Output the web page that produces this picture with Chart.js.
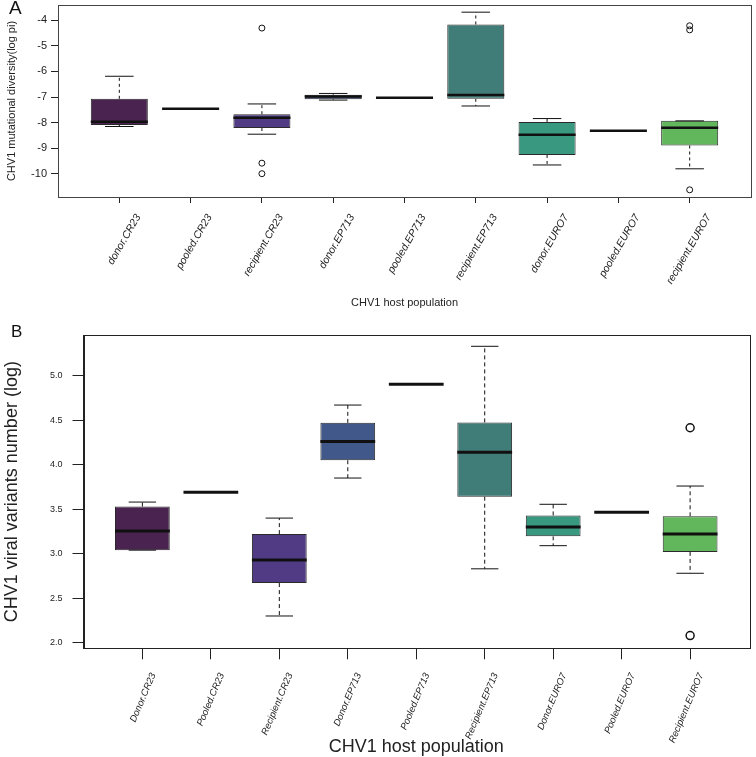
<!DOCTYPE html>
<html>
<head>
<meta charset="utf-8">
<title>CHV1 boxplots</title>
<script src="https://cdn.jsdelivr.net/npm/chart.js@4.4.1/dist/chart.umd.min.js"></script>
<style>
  html, body { margin: 0; padding: 0; background: #ffffff; overflow: hidden; }
  .panel { position: absolute; left: 0; width: 756px; }
  #panelA { top: 0; height: 322px; }
  #panelB { top: 322px; height: 435px; }
</style>
</head>
<body>
<div class="panel" id="panelA"><canvas id="chartA"></canvas></div>
<div class="panel" id="panelB"><canvas id="chartB"></canvas></div>
<script>
// panel A - mutational diversity (log pi)
const categoriesA = ["donor.CR23", "pooled.CR23", "recipient.CR23", "donor.EP713", "pooled.EP713",
  "recipient.EP713", "donor.EURO7", "pooled.EURO7", "recipient.EURO7"];
const lowA    = [-8.15, -7.46, -8.45, -7.12, -7.03, -7.35, -9.65, -8.32, -9.80];
const q1A     = [-8.09, -7.46, -8.21, -7.09, -7.03, -7.07, -9.26, -8.32, -8.89];
const medianA = [-7.96, -7.46, -7.81, -6.98, -7.03, -6.92, -8.47, -8.32, -8.20];
const q3A     = [-7.07, -7.46, -7.67, -6.91, -7.03, -4.17, -7.97, -8.32, -7.93];
const highA   = [-6.19, -7.46, -7.27, -6.86, -7.03, -3.69, -7.84, -8.32, -7.93];
const outliersA = [[], [], [-4.31, -9.58, -9.99], [], [], [], [], [], [-4.22, -4.38, -10.62]];
const yTicksA = [-10, -9, -8, -7, -6, -5, -4];

// panel B - viral variants number (log)
const categoriesB = ["Donor.CR23", "Pooled.CR23", "Recipient.CR23", "Donor.EP713", "Pooled.EP713",
  "Recipient.EP713", "Donor.EURO7", "Pooled.EURO7", "Recipient.EURO7"];
const lowB    = [3.04, 3.69, 2.30, 3.85, 4.905, 2.83, 3.09, 3.465, 2.78];
const q1B     = [3.04, 3.69, 2.67, 4.05, 4.905, 3.64, 3.195, 3.465, 3.02];
const medianB = [3.255, 3.69, 2.93, 4.26, 4.905, 4.14, 3.30, 3.465, 3.22];
const q3B     = [3.53, 3.69, 3.22, 4.47, 4.905, 4.475, 3.43, 3.465, 3.42];
const highB   = [3.58, 3.69, 3.40, 4.67, 4.905, 5.33, 3.555, 3.465, 3.76];
const outliersB = [[], [], [], [], [], [], [], [], [4.415, 2.08]];
const yTicksB = [2.0, 2.5, 3.0, 3.5, 4.0, 4.5, 5.0];

const boxColors = ["#4a2350", "#4a2350", "#513b85", "#40588a", "#40588a",
  "#417d78", "#399880", "#399880", "#62b65c"];

const FONT = '"Liberation Sans", Arial, Helvetica, sans-serif';
const BOX_FRACTION = 0.8;
Chart.defaults.font.family = FONT;
Chart.defaults.color = "#222";

// whiskers, staples, medians, frame and panel letter
function makeBoxPlugin(d, s) {
  return {
    id: "boxExtras",
    afterDatasetsDraw(chart) {
      const { ctx, chartArea, scales: { x, y } } = chart;
      const half = (x.getPixelForValue(2) - x.getPixelForValue(1)) * BOX_FRACTION / 2;
      ctx.save();
      ctx.strokeStyle = "#111";
      d.median.forEach((m, i) => {
        const cx = x.getPixelForValue(i + 1);
        if (d.high[i] > d.low[i]) {
          const yHigh = y.getPixelForValue(d.high[i]);
          const yLow = y.getPixelForValue(d.low[i]);
          ctx.lineWidth = 1;
          ctx.setLineDash(s.dash);
          ctx.beginPath();
          ctx.moveTo(cx, y.getPixelForValue(d.q3[i]));
          ctx.lineTo(cx, yHigh);
          ctx.moveTo(cx, y.getPixelForValue(d.q1[i]));
          ctx.lineTo(cx, yLow);
          ctx.stroke();
          ctx.setLineDash([]);
          ctx.beginPath();
          ctx.moveTo(cx - half / 2, yHigh);
          ctx.lineTo(cx + half / 2, yHigh);
          ctx.moveTo(cx - half / 2, yLow);
          ctx.lineTo(cx + half / 2, yLow);
          ctx.stroke();
        }
        const ym = y.getPixelForValue(m);
        ctx.lineWidth = s.medianWidth;
        ctx.beginPath();
        ctx.moveTo(cx - half, ym);
        ctx.lineTo(cx + half, ym);
        ctx.stroke();
      });
      ctx.lineWidth = 1;
      ctx.strokeStyle = s.frame;
      ctx.strokeRect(Math.round(chartArea.left) + 0.5, Math.round(chartArea.top) + 0.5,
        Math.round(chartArea.width), Math.round(chartArea.height));
      ctx.restore();
    },
    afterDraw(chart) {
      const ctx = chart.ctx;
      ctx.save();
      ctx.fillStyle = "#111";
      ctx.font = s.letterSize + "px " + FONT;
      ctx.textBaseline = "alphabetic";
      ctx.fillText(s.letter, s.letterX, s.letterY);
      ctx.restore();
    }
  };
}

function buildPanel(id, d, s) {
  const boxes = d.categories.map((c, i) => ({ x: i + 1, y: [d.q1[i], d.q3[i]] }));
  const points = [];
  d.outliers.forEach((list, i) => list.forEach(v => points.push({ x: i + 1, y: v })));

  return new Chart(document.getElementById(id), {
    type: "bar",
    data: {
      datasets: [
        {
          type: "bar",
          data: boxes,
          backgroundColor: boxColors,
          borderColor: "#2a2a2a",
          borderWidth: 1,
          borderSkipped: false,
          barPercentage: BOX_FRACTION,
          categoryPercentage: 1
        },
        {
          type: "scatter",
          data: points,
          pointStyle: "circle",
          pointRadius: s.dotRadius,
          pointBorderWidth: s.dotWidth,
          pointBorderColor: "#111",
          pointBackgroundColor: "rgba(0,0,0,0)"
        }
      ]
    },
    options: {
      responsive: true,
      maintainAspectRatio: false,
      animation: false,
      layout: { padding: s.padding },
      plugins: { legend: { display: false }, tooltip: { enabled: false } },
      scales: {
        x: {
          type: "linear",
          min: 0.14,
          max: 9.86,
          offset: false,
          grid: { offset: false, drawOnChartArea: false, drawTicks: true, tickLength: s.xTick, color: "#222" },
          border: { display: true, color: "#222" },
          afterBuildTicks: sc => { sc.ticks = d.categories.map((c, i) => ({ value: i + 1 })); },
          afterFit: sc => { sc.height = s.xHeight; sc.paddingLeft = 0; sc.paddingRight = 0; },
          ticks: {
            autoSkip: false,
            minRotation: s.rot,
            maxRotation: s.rot,
            labelOffset: s.labelOffset,
            padding: s.xPad,
            font: { size: s.xFont, style: "italic" },
            callback: v => d.categories[v - 1]
          },
          title: {
            display: true,
            text: "CHV1 host population",
            font: { size: s.xTitleSize, lineHeight: 1.1 },
            padding: { top: 0, bottom: s.xTitlePad }
          }
        },
        y: {
          type: "linear",
          min: s.yMin,
          max: s.yMax,
          grid: { drawOnChartArea: false, drawTicks: true, tickLength: s.yTick, color: "#222" },
          border: { display: true, color: "#222" },
          afterBuildTicks: sc => { sc.ticks = d.yTicks.map(v => ({ value: v })); },
          afterFit: sc => { sc.width = s.yWidth; sc.paddingTop = 0; sc.paddingBottom = 0; },
          ticks: { padding: s.yPad, font: { size: s.yFont }, callback: s.yFormat },
          title: {
            display: true,
            text: s.yTitle,
            font: { size: s.yTitleSize, lineHeight: 1.1 },
            padding: { top: s.yTitlePad, bottom: 0 }
          }
        }
      }
    },
    plugins: [makeBoxPlugin(d, s)]
  });
}

buildPanel("chartA",
  { categories: categoriesA, low: lowA, q1: q1A, median: medianA, q3: q3A, high: highA,
    outliers: outliersA, yTicks: yTicksA },
  {
    padding: { top: 5, right: 4, left: 0, bottom: 0 },
    yMin: -10.9, yMax: -3.41, yWidth: 58, yTick: 7, yPad: 4, yFont: 11,
    yFormat: v => String(v),
    yTitle: "CHV1 mutational diversity(log pi)", yTitleSize: 11, yTitlePad: 6,
    xHeight: 125, xTick: 6, xPad: 9, xFont: 10.5, rot: 60, labelOffset: 19,
    xTitleSize: 11, xTitlePad: 13,
    dash: [3, 3], medianWidth: 2.5, dotRadius: 3, dotWidth: 1,
    frame: "#444", letter: "A", letterSize: 19, letterX: 9, letterY: 14
  });

buildPanel("chartB",
  { categories: categoriesB, low: lowB, q1: q1B, median: medianB, q3: q3B, high: highB,
    outliers: outliersB, yTicks: yTicksB },
  {
    padding: { top: 13, right: 7, left: 0, bottom: 0 },
    yMin: 1.937, yMax: 5.457, yWidth: 83.5, yTick: 11, yPad: 10, yFont: 9,
    yFormat: v => v.toFixed(1),
    yTitle: "CHV1 viral variants number (log)", yTitleSize: 18, yTitlePad: 2,
    xHeight: 108.7, xTick: 11, xPad: 12, xFont: 9.5, rot: 67, labelOffset: 11,
    xTitleSize: 18, xTitlePad: 0,
    dash: [4, 3], medianWidth: 3, dotRadius: 4, dotWidth: 1.5,
    frame: "#222", letter: "B", letterSize: 17, letterX: 11, letterY: 15
  });
</script>
</body>
</html>
